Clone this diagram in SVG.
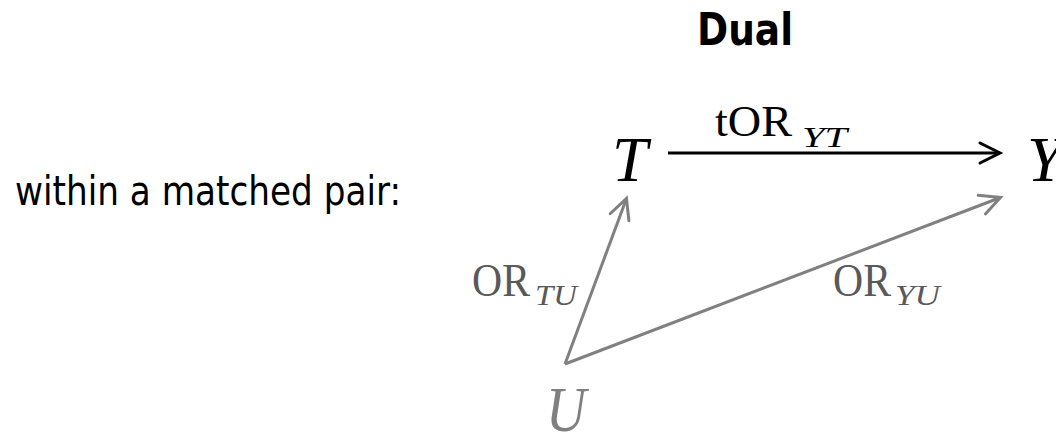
<svg xmlns="http://www.w3.org/2000/svg" width="1056" height="435" viewBox="0 0 1056 435">
  <style>
    .sans { font-family: "DejaVu Sans", "Liberation Sans", sans-serif; fill: #000; }
    .math { font-family: "Liberation Serif", "DejaVu Serif", serif; }
    .it { font-style: italic; }
    .black { fill: #000; }
    .gray { fill: #808080; }
    .dgray { fill: #595959; }
    .edge { fill: none; stroke-width: 3; }
  </style>
  <defs>
    <marker id="headBlack" markerUnits="userSpaceOnUse" markerWidth="30" markerHeight="30" refX="0" refY="0" viewBox="-25 -15 30 30" orient="auto" overflow="visible">
      <path d="M-20,-10 L0,0 L-20,10" fill="none" stroke="#000" stroke-width="3" stroke-linecap="round" stroke-linejoin="miter"/>
    </marker>
    <marker id="headGray" markerUnits="userSpaceOnUse" markerWidth="30" markerHeight="30" refX="0" refY="0" viewBox="-25 -15 30 30" orient="auto" overflow="visible">
      <path d="M-20,-10 L0,0 L-20,10" fill="none" stroke="#808080" stroke-width="3" stroke-linecap="round" stroke-linejoin="miter"/>
    </marker>
  </defs>
  <rect width="1056" height="435" fill="#fff"/>

  <g id="title">
    <text class="sans" x="697" y="45" font-size="44" font-weight="bold" textLength="96" lengthAdjust="spacingAndGlyphs">Dual</text>
  </g>
  <g id="caption">
    <text class="sans" x="15" y="205" font-size="41" textLength="386" lengthAdjust="spacingAndGlyphs">within a matched pair:</text>
  </g>

  <g id="connectors">
    <g id="edge-T-Y">
      <line class="edge" x1="668" y1="153" x2="1000" y2="153" stroke="#000" marker-end="url(#headBlack)"/>
      <text class="math black" x="715" y="136" font-size="44" textLength="77" lengthAdjust="spacingAndGlyphs">tOR</text>
      <text class="math it black" x="802" y="147" font-size="30" textLength="45" lengthAdjust="spacingAndGlyphs">YT</text>
    </g>
    <g id="edge-U-T">
      <line class="edge" x1="565" y1="364" x2="626.5" y2="198.5" stroke="#808080" marker-end="url(#headGray)"/>
      <text class="math dgray" x="472" y="296" font-size="46" textLength="58" lengthAdjust="spacingAndGlyphs">OR</text>
      <text class="math it dgray" x="535" y="305" font-size="30" textLength="42" lengthAdjust="spacingAndGlyphs">TU</text>
    </g>
    <g id="edge-U-Y">
      <line class="edge" x1="565" y1="364" x2="1000.5" y2="197.5" stroke="#808080" marker-end="url(#headGray)"/>
      <text class="math dgray" x="833" y="296" font-size="46" textLength="58" lengthAdjust="spacingAndGlyphs">OR</text>
      <text class="math it dgray" x="895" y="305" font-size="30" textLength="45" lengthAdjust="spacingAndGlyphs">YU</text>
    </g>
  </g>

  <g id="node-T">
    <text class="math it black" x="612" y="181" font-size="64">T</text>
  </g>
  <g id="node-Y">
    <text class="math it black" x="1027" y="181" font-size="64">Y</text>
  </g>
  <g id="node-U">
    <text class="math it gray" x="546" y="431" font-size="63" textLength="40" lengthAdjust="spacingAndGlyphs">U</text>
  </g>
</svg>
